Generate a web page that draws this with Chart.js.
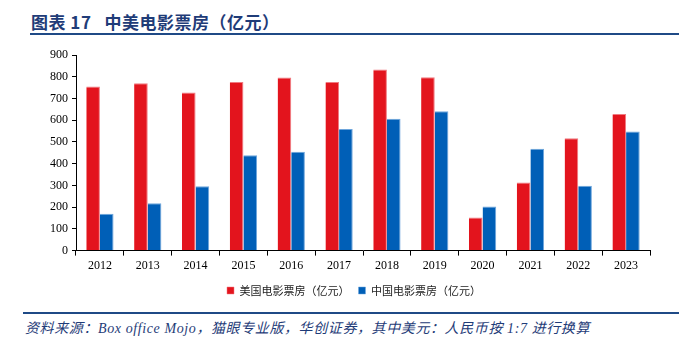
<!DOCTYPE html>
<html>
<head>
<meta charset="utf-8">
<script src="https://cdn.jsdelivr.net/npm/chart.js@4"></script>
<style>
  html, body { margin: 0; padding: 0; background: #fff; }
  body { width: 679px; height: 341px; position: relative; overflow: hidden; }
  #title {
    position: absolute; left: 31px; top: 9px;
    font: bold 17px "Noto Sans CJK SC", sans-serif; color: #1f3c78;
    letter-spacing: 0.5px; white-space: pre;
  }
  #titleLine { position: absolute; left: 30px; right: 0; top: 33px; height: 2px; background: #1f4a86; }
  #chartBox { position: absolute; left: 0; top: 40px; width: 679px; height: 270px; }
  #footLine { position: absolute; left: 23px; right: 0; top: 312px; height: 2px; background: #1f4a86; }
  #source {
    position: absolute; left: 25px; top: 317px;
    font: italic 14px "Liberation Serif", "Noto Sans CJK SC", serif; color: #1f3c78;
    letter-spacing: 0.6px; white-space: pre;
  }
</style>
</head>
<body>
<div id="title">图表 17   中美电影票房（亿元）</div>
<div id="titleLine"></div>
<div id="chartBox"><canvas id="boxOffice"></canvas></div>
<div id="footLine"></div>
<div id="source">资料来源：Box office Mojo，猫眼专业版，华创证券，其中美元：人民币按 1:7 进行换算</div>
<script>
// ---- data ----
const years = ['2012', '2013', '2014', '2015', '2016', '2017', '2018', '2019', '2020', '2021', '2022', '2023'];
const usBoxOffice = [755, 770, 728, 776, 797, 776, 833, 798, 152, 313, 517, 629];
const cnBoxOffice = [170, 218, 296, 439, 455, 559, 607, 641, 203, 469, 298, 548];
const yTicks = [0, 100, 200, 300, 400, 500, 600, 700, 800, 900];

const tickFont = { family: '"Liberation Serif", "Times New Roman", serif', size: 12 };

// the legend in the source sits a bit right of centre
const legendShift = {
    id: 'legendShift',
    afterLayout(c) { c.legend.left += 29; c.legend.right += 29; }
};

const ctx = document.getElementById('boxOffice').getContext('2d');
const chart = new Chart(ctx, {
    type: 'bar',
    data: {
        labels: years,
        datasets: [
            { label: '美国电影票房（亿元）', data: usBoxOffice, backgroundColor: '#e3141d', borderColor: '#f07a80', borderWidth: { top: 1, right: 1, left: 0, bottom: 0 } },
            { label: '中国电影票房（亿元）', data: cnBoxOffice, backgroundColor: '#005fb7', borderColor: '#6ea6dc', borderWidth: { top: 1, right: 1, left: 0, bottom: 0 } }
        ]
    },
    options: {
        responsive: true,
        maintainAspectRatio: false,
        animation: false,
        datasets: { bar: { categoryPercentage: 0.57, barPercentage: 1 } },
        layout: { padding: { top: 15, right: 29, left: 0, bottom: 4 } },
        plugins: {
            title: { display: false },
            tooltip: { enabled: false },
            legend: {
                position: 'bottom',
                labels: {
                    boxWidth: 7, boxHeight: 7, padding: 9, color: '#222',
                    font: { family: '"Noto Sans CJK SC", sans-serif', size: 11 }
                }
            }
        },
        scales: {
            x: {
                grid: { display: true, drawOnChartArea: false, offset: true, tickLength: 5, color: '#000' },
                border: { color: '#000', width: 1 },
                ticks: { color: '#000', font: tickFont, padding: 3, maxRotation: 0 }
            },
            y: {
                min: 0, max: 900,
                afterBuildTicks: s => { s.ticks = yTicks.map(v => ({ value: v })); },
                afterFit: s => { s.width = 76; },
                grid: { display: true, drawOnChartArea: false, tickLength: 4, color: '#000' },
                border: { color: '#000', width: 1 },
                ticks: { color: '#000', font: tickFont, padding: 4 }
            }
        }
    },
    plugins: [legendShift]
});
</script>
</body>
</html>
